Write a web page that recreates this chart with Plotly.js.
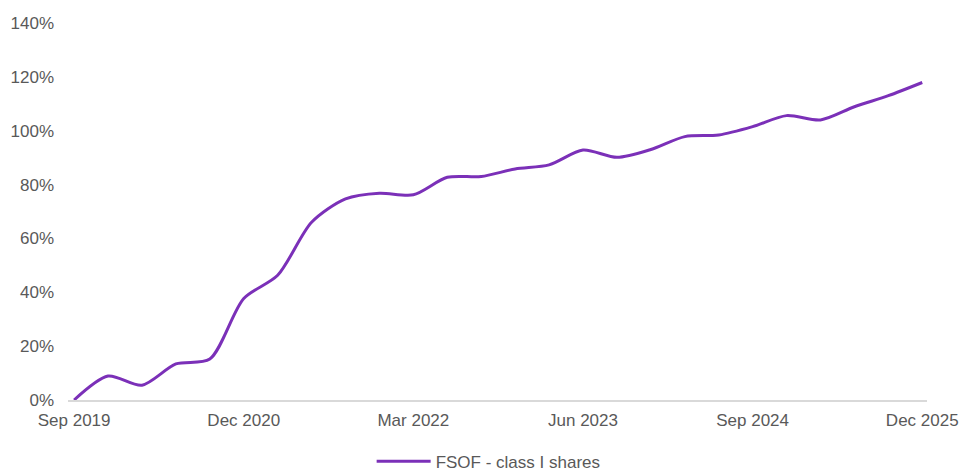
<!DOCTYPE html>
<html>
<head>
<meta charset="utf-8">
<script src="https://cdn.plot.ly/plotly-3.0.1.min.js"></script>
<style>
html,body{margin:0;padding:0;background:#fff;}
#chart{width:960px;height:471px;}
</style>
</head>
<body>
<div id="chart"></div>
<script>
const quarters = ["Sep 2019","Dec 2019","Mar 2020","Jun 2020","Sep 2020","Dec 2020","Mar 2021","Jun 2021","Sep 2021","Dec 2021","Mar 2022","Jun 2022","Sep 2022","Dec 2022","Mar 2023","Jun 2023","Sep 2023","Dec 2023","Mar 2024","Jun 2024","Sep 2024","Dec 2024","Mar 2025","Jun 2025","Sep 2025","Dec 2025"];
const fsofReturns = [0, 8.9, 5.5, 13.4, 15.2, 37.7, 46.3, 66, 74.7, 76.8, 76.2, 82.7, 83, 85.8, 87.3, 92.8, 90.1, 93, 97.8, 98.4, 101.5, 105.6, 104, 108.9, 113, 117.9];
const tickLabels = ["Sep 2019","Dec 2020","Mar 2022","Jun 2023","Sep 2024","Dec 2025"];
const yTicks = [0,20,40,60,80,100,120,140];
const seriesName = "FSOF - class I shares";

const trace = {
  x: quarters,
  y: fsofReturns,
  type: "scatter",
  mode: "lines",
  name: seriesName,
  line: {color: "#7B30B8", width: 3, shape: "spline", smoothing: 0.8},
  hoverinfo: "x+y"
};

const layout = {
  width: 960,
  height: 471,
  margin: {l: 68, r: 33, t: 23, b: 71, autoexpand: false},
  paper_bgcolor: "#fff",
  plot_bgcolor: "#fff",
  font: {family: "Liberation Sans, Arial, sans-serif", size: 17, color: "#595959"},
  showlegend: true,
  legend: {
    orientation: "h",
    xref: "container",
    yref: "container",
    x: 0.509, xanchor: "center",
    y: 0.02, yanchor: "middle",
    font: {size: 17, color: "#595959"},
    itemwidth: 54
  },
  xaxis: {
    type: "category",
    categoryorder: "array",
    categoryarray: quarters,
    range: [-0.18, 25.14],
    tickmode: "array",
    tickvals: tickLabels,
    ticktext: tickLabels,
    showgrid: false,
    zeroline: false,
    showline: true,
    linecolor: "#D9D9D9",
    linewidth: 1.5,
    ticks: "",
    ticklabelstandoff: 4,
    tickfont: {size: 17, color: "#595959"}
  },
  yaxis: {
    range: [0, 140],
    tickmode: "array",
    tickvals: yTicks,
    ticktext: yTicks.map(v => v + "%"),
    showgrid: false,
    zeroline: false,
    showline: false,
    ticks: "",
    ticklabelstandoff: 13,
    tickfont: {size: 17, color: "#595959"}
  }
};

Plotly.newPlot("chart", [trace], layout, {displayModeBar: false, responsive: false});
</script>
</body>
</html>
